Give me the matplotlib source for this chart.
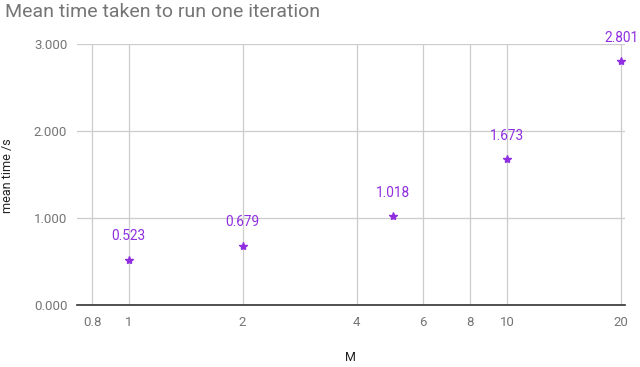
import matplotlib
matplotlib.use("Agg")
import matplotlib.pyplot as plt
from matplotlib.ticker import FixedLocator, FixedFormatter, NullLocator

M = [1, 2, 5, 10, 20]
mean_time = [0.523, 0.679, 1.018, 1.673, 2.801]
labels = ["0.523", "0.679", "1.018", "1.673", "2.801"]
xticks = [0.8, 1, 2, 4, 6, 8, 10, 20]
xticklabels = ["0.8", "1", "2", "4", "6", "8", "10", "20"]
yticks = [0, 1, 2, 3]
yticklabels = ["0.000", "1.000", "2.000", "3.000"]

plt.rcParams['font.family'] = ['Roboto', 'DejaVu Sans']
purple = "#8f2fe0"
gray = "#757575"

fig = plt.figure(figsize=(6.4, 3.67), dpi=100)
ax = fig.add_axes([0.1203, 0.1689, 0.8563, 0.7112])
ax.set_xscale('log')
ax.set_xlim(0.73, 20.5)
ax.set_ylim(0, 3)

ax.xaxis.set_major_locator(FixedLocator(xticks))
ax.xaxis.set_major_formatter(FixedFormatter(xticklabels))
ax.xaxis.set_minor_locator(NullLocator())
ax.yaxis.set_major_locator(FixedLocator(yticks))
ax.yaxis.set_major_formatter(FixedFormatter(yticklabels))

ax.grid(True, which='major', color='#cccccc', linewidth=0.9)
ax.set_axisbelow(True)
for s in ['top', 'right', 'left']:
    ax.spines[s].set_visible(False)
ax.spines['bottom'].set_color('#333333')
ax.spines['bottom'].set_linewidth(1.2)
ax.tick_params(axis='both', length=0, labelsize=9.5, labelcolor=gray)
ax.tick_params(axis='x', pad=8)
ax.tick_params(axis='y', pad=7)

ax.plot(M, mean_time, linestyle='none', marker='*', markersize=6, color=purple, clip_on=False, zorder=3)
for x, y, t in zip(M, mean_time, labels):
    ax.annotate(t, (x, y), xytext=(0, 17), textcoords='offset points', ha='center', va='center',
                fontsize=9.8, color=purple, annotation_clip=False)

fig.text(0.008, 0.967, "Mean time taken to run one iteration", fontsize=14, color=gray, ha='left', va='center')
fig.text(0.012, 0.52, "mean time /s", fontsize=9, color='#222222', rotation=90, ha='center', va='center')
fig.text(0.547, 0.027, "M", fontsize=9, color='#222222', ha='center', va='center')

fig.savefig("out.png", dpi=100)
